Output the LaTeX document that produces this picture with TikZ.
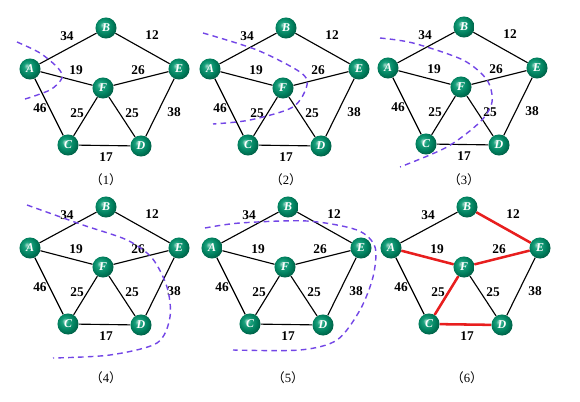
\documentclass[tikz,border=0pt]{standalone}
\usepackage{fontspec}
\setmainfont{Liberation Serif}
\newfontfamily\cjk{Noto Sans CJK SC}
\usetikzlibrary{positioning}
\definecolor{ballgreen}{RGB}{0,150,110}
\definecolor{cutline}{RGB}{115,70,230}
\definecolor{treeedge}{RGB}{232,30,30}
\pgfdeclareradialshading{greenball}{\pgfpoint{-8bp}{8bp}}{%
  color(0bp)=(ballgreen!35!white); color(8bp)=(ballgreen!90!white);
  color(20bp)=(ballgreen!85!black); color(32bp)=(ballgreen!55!black);
  color(50bp)=(ballgreen!55!black)}

\tikzset{
  vtx/.style={circle,shading=greenball,minimum size=15pt,inner sep=0pt,text=white,font=\bfseries\itshape\fontsize{8.5}{10}\selectfont},
  wt/.style={font=\bfseries\fontsize{9.5}{11}\selectfont,inner sep=1pt},
  edge/.style={line width=0.8pt},
  treeline/.style={treeedge,line width=1.8pt},
  cut/.style={cutline,dashed,line width=1pt,dash pattern=on 4pt off 3pt},
}

\begin{document}
\begin{tikzpicture}[x=0.025cm,y=-0.025cm]
  \useasboundingbox (0,0) rectangle (580,402);
  % six copies of the same weighted graph
  \foreach \p/\x/\y/\c in {1/106/28/152,2/286/28/152,3/464/27/153,4/106/207/171,5/288/207/171,6/467/207/171} {
    \begin{scope}[shift={(\x,\y)}]
      \node[vtx] (B\p) at (0,0) {B};
      \node[vtx] (A\p) at (-76,41) {A};
      \node[vtx] (E\p) at (73,41) {E};
      \node[vtx] (F\p) at (-3,60) {F};
      \node[vtx] (C\p) at (-38,117) {C};
      \node[vtx] (D\p) at (35,118) {D};
      \draw[edge] (A\p) -- (B\p);
      \draw[edge] (B\p) -- (E\p);
      \draw[edge] (A\p) -- (F\p);
      \draw[edge] (F\p) -- (E\p);
      \draw[edge] (A\p) -- (C\p);
      \draw[edge] (E\p) -- (D\p);
      \draw[edge] (F\p) -- (C\p);
      \draw[edge] (F\p) -- (D\p);
      \draw[edge] (C\p) -- (D\p);
      \node[wt] (w34\p) at (-39,8) {34};
      \node[wt] (w12\p) at (46,7) {12};
      \node[wt] (w19\p) at (-30,42) {19};
      \node[wt] (w26\p) at (32,42) {26};
      \node[wt] (w46\p) at (-66,80) {46};
      \node[wt] (w25a\p) at (-29,85) {25};
      \node[wt] (w25b\p) at (26,85) {25};
      \node[wt] (w38\p) at (68,84) {38};
      \node[wt] (w17\p) at (0,129) {17};
      \node[font=\small] (cap\p) at (0,\c) {{\cjk （}\p{\cjk ）}};
    \end{scope}
  }
  % minimum spanning tree
  \draw[treeline] (B6) -- (E6);
  \draw[treeline] (A6) -- (F6);
  \draw[treeline] (F6) -- (E6);
  \draw[treeline] (F6) -- (C6);
  \draw[treeline] (C6) -- (D6);
  % cuts
  \draw[cut] plot[smooth] coordinates {(17,42) (40,53) (58,68) (62,78) (50,90) (22,100)};
  \draw[cut] plot[smooth] coordinates {(203,33) (257,50) (300,72) (307,85) (293,107) (250,120) (213,124)};
  \draw[cut] plot[smooth] coordinates {(380,38) (413,43) (463,60) (487,80) (492,102) (480,122) (447,147) (400,167)};
  \draw[cut] plot[smooth] coordinates {(27,205) (83,225) (127,240) (152,258) (167,287) (170,317) (157,343) (110,355) (53,358)};
  \draw[cut] plot[smooth] coordinates {(205,228) (240,223) (307,221) (357,230) (375,247) (373,277) (360,310) (337,340) (300,350) (233,350)};
\end{tikzpicture}
\end{document}
